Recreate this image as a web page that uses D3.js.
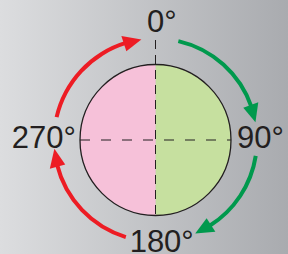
<!DOCTYPE html>
<html>
<head>
<meta charset="utf-8">
<script src="https://cdn.jsdelivr.net/npm/d3@7"></script>
<style>
  html, body { margin: 0; padding: 0; background: #c4c5c8; }
  svg { display: block; }
</style>
</head>
<body>
<div id="chart"></div>
<script>
// Compass-style rotation diagram: angle labels and direction arrows
var angles = [0, 90, 180, 270];
var labels = ["0", "90", "180", "270"];

// arrows, in degrees clockwise from the top
var arrowFrom = [13, 99, 197, 283];
var arrowTo = [80, 157, 265, 352];
var arrowColors = ["#00994d", "#00994d", "#ed1c24", "#ed1c24"];

// the two halves of the disc
var halfFrom = [0, 180];
var halfTo = [180, 360];
var halfColors = ["#c6e09f", "#f6c1d9"];

var width = 288,
    height = 254,
    cx = 155.5,
    cy = 140,
    discR = 75.5,
    arrowR = 101.5,
    headLen = 18,
    headHalf = 8;

var svg = d3.select("#chart").append("svg")
    .attr("width", width)
    .attr("height", height);

var grad = svg.append("defs").append("linearGradient")
    .attr("id", "bg")
    .attr("x1", "0").attr("x2", "1").attr("y1", "0").attr("y2", "0");
grad.append("stop").attr("offset", "0").attr("stop-color", "#dcdddf");
grad.append("stop").attr("offset", "1").attr("stop-color", "#a9abaf");

svg.append("rect")
    .attr("width", width)
    .attr("height", height)
    .attr("fill", "url(#bg)");

var angle = d3.scaleLinear().domain([0, 360]).range([0, 2 * Math.PI]);

var polar = function(r, a) {
    return [r * Math.sin(a), -r * Math.cos(a)];
};

var g = svg.append("g")
    .attr("transform", "translate(" + cx + "," + cy + ")");

// disc halves
var halfArc = d3.arc().innerRadius(0).outerRadius(discR);
for (var i = 0; i < halfFrom.length; i++) {
    g.append("path")
        .attr("d", halfArc({startAngle: angle(halfFrom[i]), endAngle: angle(halfTo[i])}))
        .attr("fill", halfColors[i]);
}

// dashed axes
g.append("line")
    .attr("x1", -discR).attr("x2", discR)
    .attr("y1", 0).attr("y2", 0)
    .attr("stroke", "#231f20")
    .attr("stroke-width", 1)
    .attr("stroke-dasharray", "10,11");

g.append("line")
    .attr("x1", 0).attr("x2", 0)
    .attr("y1", -cy + 40).attr("y2", discR)
    .attr("stroke", "#231f20")
    .attr("stroke-width", 1)
    .attr("stroke-dasharray", "9,6");

g.append("circle")
    .attr("r", discR)
    .attr("fill", "none")
    .attr("stroke", "#231f20")
    .attr("stroke-width", 1.3);

// arrows
var band = d3.arc().innerRadius(arrowR - 2).outerRadius(arrowR + 2);
for (var j = 0; j < arrowFrom.length; j++) {
    var a0 = angle(arrowFrom[j]);
    var a1 = angle(arrowTo[j]);
    var aBase = a1 - headLen / arrowR;

    g.append("path")
        .attr("d", band({startAngle: a0, endAngle: aBase + 0.02}))
        .attr("fill", arrowColors[j]);

    var tip = polar(arrowR, a1),
        outer = polar(arrowR + headHalf, aBase),
        inner = polar(arrowR - headHalf, aBase);
    g.append("path")
        .attr("d", "M" + tip + "L" + outer + "L" + inner + "Z")
        .attr("fill", arrowColors[j]);
}

// angle labels; the digits are centred, the degree sign hangs off
var place = {
    0: {x: 0, y: -108, anchor: "middle"},
    90: {x: discR + 6, y: 8, anchor: "start"},
    180: {x: 0, y: 112, anchor: "middle"},
    270: {x: -discR - 4, y: 8, anchor: "end"}
};

for (var k = 0; k < angles.length; k++) {
    var p = place[angles[k]];
    var t = g.append("text")
        .attr("y", p.y)
        .attr("font-family", "'Liberation Sans', Arial, Helvetica, sans-serif")
        .attr("font-size", 31)
        .attr("fill", "#231f20");
    var digits = t.append("tspan").text(labels[k]);
    t.append("tspan").text("°");

    var dw = digits.node().getComputedTextLength();
    var tw = t.node().getComputedTextLength();
    var x;
    if (p.anchor === "middle") {
        x = p.x - dw / 2;
    } else if (p.anchor === "end") {
        x = p.x - tw;
    } else {
        x = p.x;
    }
    t.attr("x", x);
}
</script>
</body>
</html>
